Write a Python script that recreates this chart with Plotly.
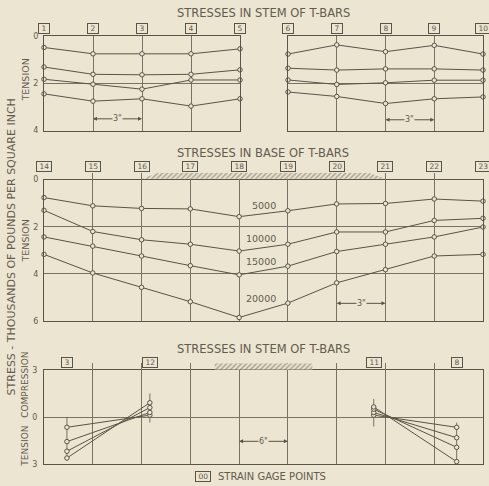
import plotly.graph_objects as go

# ---------------- data ----------------
loads = ["5000", "10000", "15000", "20000"]

# Top panel: stresses in stem of T-bars (thousands psi, tension), gauges 1-10
stem_gauges = [1, 2, 3, 4, 5, 6, 7, 8, 9, 10]
stem_5000 = [0.47, 0.74, 0.74, 0.74, 0.53, 0.75, 0.36, 0.65, 0.38, 0.75]
stem_10000 = [1.30, 1.61, 1.63, 1.61, 1.42, 1.35, 1.43, 1.38, 1.38, 1.43]
stem_15000 = [1.82, 2.03, 2.24, 1.85, 1.85, 1.85, 2.04, 1.97, 1.86, 1.86]
stem_20000 = [2.44, 2.75, 2.65, 2.96, 2.65, 2.36, 2.55, 2.85, 2.65, 2.57]

# Middle panel: stresses in base of T-bars, gauges 14-23
base_gauges = [14, 15, 16, 17, 18, 19, 20, 21, 22, 23]
base_5000 = [0.76, 1.11, 1.22, 1.24, 1.57, 1.32, 1.03, 1.01, 0.82, 0.91]
base_10000 = [1.30, 2.20, 2.55, 2.74, 3.03, 2.74, 2.22, 2.22, 1.73, 1.64]
base_15000 = [2.43, 2.82, 3.24, 3.65, 4.04, 3.67, 3.05, 2.74, 2.43, 2.01]
base_20000 = [3.17, 3.96, 4.57, 5.18, 5.85, 5.24, 4.38, 3.82, 3.24, 3.17]

# Bottom panel: stem stresses (compression +, tension -), gauges 3, 12, 11, 8
web_labels = ["3", "12", "11", "8"]
web_pos = [0.47, 2.17, 6.76, 8.46]          # position in grid spacings
web_g3 = [-0.65, -1.56, -2.17, -2.60]
web_g12 = [0.12, 0.29, 0.60, 0.91]
web_g11 = [0.12, 0.29, 0.50, 0.64]
web_g8 = [-0.65, -1.31, -1.92, -2.83]
web_stem_span = [[0.0, -2.75], [1.5, -0.35], [1.15, -0.6], [-0.35, -2.95]]

base_load_span = [16, 21]      # hatched load bar over base panel (gauges)
web_load_span = [3.5, 5.5]     # hatched load bar over bottom panel (grid units)

# ---------------- style ----------------
BG = "#ece5d2"
INK = "#5a5347"
GRID = "#7a7264"
TXT = "#625b4e"
FONT = "DejaVu Sans"
W, H = 489, 486
L, R = 44, 6
PW = W - L - R


def px(xp):
    return (xp - L) / PW


def py(yp):
    return 1 - yp / H


fig = go.Figure()

stem_series = [stem_5000, stem_10000, stem_15000, stem_20000]
base_series = [base_5000, base_10000, base_15000, base_20000]

marker = dict(symbol="circle", size=4.5, color=BG, line=dict(color=INK, width=1))
line = dict(color=INK, width=1)

for name, s in zip(loads, stem_series):
    fig.add_trace(go.Scatter(x=stem_gauges[:5], y=s[:5], xaxis="x", yaxis="y",
                             mode="lines+markers", line=line, marker=marker,
                             name=name, showlegend=False, cliponaxis=False))
    fig.add_trace(go.Scatter(x=stem_gauges[5:], y=s[5:], xaxis="x2", yaxis="y2",
                             mode="lines+markers", line=line, marker=marker,
                             name=name, showlegend=False, cliponaxis=False))

for name, s in zip(loads, base_series):
    fig.add_trace(go.Scatter(x=base_gauges, y=s, xaxis="x3", yaxis="y3",
                             mode="lines+markers", line=line, marker=marker,
                             name=name, showlegend=False, cliponaxis=False))

# bottom: short vertical gauge stems
for p, span in zip(web_pos, web_stem_span):
    fig.add_trace(go.Scatter(x=[p, p], y=span, xaxis="x4", yaxis="y4", mode="lines",
                             line=dict(color=INK, width=0.8), showlegend=False,
                             hoverinfo="skip"))

for i, name in enumerate(loads):
    fig.add_trace(go.Scatter(x=web_pos[:2], y=[web_g3[i], web_g12[i]], xaxis="x4", yaxis="y4",
                             mode="lines+markers", line=line, marker=marker,
                             name=name, showlegend=False, cliponaxis=False))
    fig.add_trace(go.Scatter(x=web_pos[2:], y=[web_g11[i], web_g8[i]], xaxis="x4", yaxis="y4",
                             mode="lines+markers", line=line, marker=marker,
                             name=name, showlegend=False, cliponaxis=False))

# hatched load bars
a, b = base_load_span
fig.add_trace(go.Scatter(x=[a, a + 0.35, b - 0.35, b, a], y=[0.15, 1, 1, 0.15, 0.15],
                         xaxis="x3", yaxis="y5", mode="lines", fill="toself",
                         fillcolor=BG, line=dict(width=0, color=INK),
                         fillpattern=dict(shape="/", size=3.5, solidity=0.4,
                                          fgcolor=INK, bgcolor=BG),
                         showlegend=False, hoverinfo="skip"))
a, b = web_load_span
fig.add_trace(go.Scatter(x=[a, b, b, a, a], y=[0, 0, 1, 1, 0],
                         xaxis="x4", yaxis="y6", mode="lines", fill="toself",
                         fillcolor=BG, line=dict(width=0, color=INK),
                         fillpattern=dict(shape="/", size=3.5, solidity=0.4,
                                          fgcolor=INK, bgcolor=BG),
                         showlegend=False, hoverinfo="skip"))

ax_common = dict(showline=True, mirror=True, linecolor=INK, linewidth=1,
                 showgrid=True, gridcolor=GRID, gridwidth=1, zeroline=False,
                 ticks="", tickfont=dict(family=FONT, size=8, color=TXT),
                 fixedrange=True)

top_dom = [py(129), py(33)]
mid_dom = [py(323), py(179)]
bot_dom = [py(469), py(372.7)]

layout = dict(
    width=W, height=H, paper_bgcolor=BG, plot_bgcolor=BG,
    margin=dict(l=L, r=R, t=0, b=0), showlegend=False,
    xaxis=dict(ax_common, domain=[0, px(240)], range=[1, 5], tickvals=stem_gauges[:5],
               showticklabels=False, anchor="y"),
    yaxis=dict(ax_common, domain=top_dom, range=[4, 0], tickvals=[0, 2, 4],
               anchor="x", ticklabelstandoff=3),
    xaxis2=dict(ax_common, domain=[px(288), 1], range=[6, 10], tickvals=stem_gauges[5:],
                showticklabels=False, anchor="y2"),
    yaxis2=dict(ax_common, domain=top_dom, range=[4, 0], tickvals=[0, 2, 4],
                showticklabels=False, anchor="x2"),
    xaxis3=dict(ax_common, domain=[0, 1], range=[14, 23], tickvals=base_gauges,
                showticklabels=False, anchor="y3"),
    yaxis3=dict(ax_common, domain=mid_dom, range=[6, 0], tickvals=[0, 2, 4, 6],
                anchor="x3", ticklabelstandoff=3),
    xaxis4=dict(ax_common, domain=[0, 1], range=[0, 9], tickvals=list(range(10)),
                showticklabels=False, anchor="y4"),
    yaxis4=dict(ax_common, domain=bot_dom, range=[-3, 3], tickvals=[-3, 0, 3],
                ticktext=["3", "0", "3"], anchor="x4", ticklabelstandoff=4),
    yaxis5=dict(domain=[py(179), py(172)], range=[0, 1], visible=False, anchor="x3",
                fixedrange=True),
    yaxis6=dict(domain=[py(372.7), py(366)], range=[0, 1], visible=False, anchor="x4",
                fixedrange=True),
)
fig.update_layout(**layout)

ann = []


def text(x, y, s, size=10, xref="paper", yref="paper", angle=0, xanchor="center", **kw):
    ann.append(dict(x=x, y=y, text=s, xref=xref, yref=yref, showarrow=False,
                    textangle=angle, xanchor=xanchor, yanchor="middle",
                    font=dict(family=FONT, size=size, color=TXT), **kw))


def box(x, y, s, xref="paper", yref="paper"):
    ann.append(dict(x=x, y=y, text=" " + s + " ", xref=xref, yref=yref, showarrow=False,
                    xanchor="center", yanchor="middle", bordercolor=INK, borderwidth=1,
                    borderpad=0, bgcolor=BG,
                    font=dict(family=FONT, size=7.5, color=TXT)))


def dim(xa, xb, y, label, xref, yref):
    mid = (xa + xb) / 2
    for end in (xa, xb):
        ann.append(dict(x=end, y=y, ax=mid, ay=y, xref=xref, yref=yref, axref=xref,
                        ayref=yref, text="", showarrow=True, arrowhead=2, arrowsize=0.8,
                        arrowwidth=1, arrowcolor=INK))
    ann.append(dict(x=mid, y=y, text=label, xref=xref, yref=yref, showarrow=False,
                    bgcolor=BG, borderpad=0,
                    font=dict(family=FONT, size=8, color=TXT)))


# titles
text(px(263), py(9), "STRESSES IN STEM OF T-BARS", size=11.5)
text(px(263), py(152), "STRESSES IN BASE OF T-BARS", size=11.5)
text(px(263), py(351), "STRESSES IN STEM OF T-BARS", size=11.5)

# axis titles
text(px(11), py(248), "STRESS - THOUSANDS OF POUNDS PER SQUARE INCH", size=11, angle=-90)
text(px(26), py(78), "TENSION", size=9.5, angle=-90)
text(px(26), py(242), "TENSION", size=9.5, angle=-90)
text(px(25), py(388), "COMPRESSION", size=9, angle=-90)
text(px(25), py(451), "TENSION", size=9, angle=-90)

# gauge boxes
for g in stem_gauges[:5]:
    box(g, py(25), str(g), xref="x")
for g in stem_gauges[5:]:
    box(g, py(25), str(g), xref="x2")
for g in base_gauges:
    box(g, py(166), str(g), xref="x3")
for p, lab in zip(web_pos, web_labels):
    box(p, py(365), lab, xref="x4")

# load labels on base panel
for lab, yv in zip(loads, [1.08, 2.5, 3.46, 5.04]):
    text(18.8, yv, lab, size=9.5, xref="x3", yref="y3", xanchor="right")

# dimension marks
dim(2, 3, 3.5, '3"', "x", "y")
dim(8, 9, 3.54, '3"', "x2", "y2")
dim(20, 21, 5.25, '3"', "x3", "y3")
dim(4, 5, -1.54, '6"', "x4", "y4")

# legend note
box(px(203), py(481), "00")
text(px(216), py(481), "STRAIN GAGE POINTS", size=10, xanchor="left")

fig.update_layout(annotations=ann)
fig.write_html("out.html")
